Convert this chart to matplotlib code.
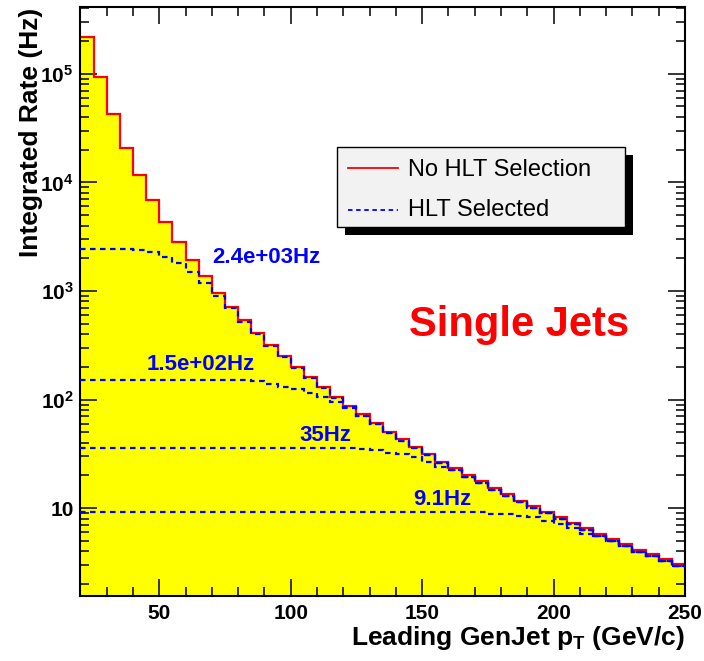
import numpy as np
import matplotlib
matplotlib.use('Agg')
import matplotlib.pyplot as plt
from matplotlib.ticker import LogLocator, FuncFormatter, MultipleLocator, NullFormatter
from matplotlib.patches import Rectangle
from matplotlib.lines import Line2D

plt.rcParams['font.family'] = ['Liberation Sans', 'DejaVu Sans']
plt.rcParams['font.weight'] = 'bold'
plt.rcParams['axes.labelweight'] = 'bold'
plt.rcParams['mathtext.fontset'] = 'custom'
plt.rcParams['mathtext.rm'] = 'Liberation Sans:bold'
plt.rcParams['mathtext.bf'] = 'Liberation Sans:bold'
plt.rcParams['mathtext.it'] = 'Liberation Sans:bold'

# bin edges, leading GenJet pT (GeV/c)
edges = np.arange(20, 255, 5)

# integrated rate without HLT selection (Hz), one value per 5 GeV bin
no_hlt = [2.18e5, 9.4e4, 4.26e4, 2.09e4, 1.16e4, 6.86e3, 4.33e3, 2.83e3, 1.93e3, 1.37e3,
          964, 713, 535, 413, 318, 252, 201, 162, 131, 106,
          87.7, 73, 61, 50.5, 43, 36.7, 31.5, 26.7, 23.2, 20.1,
          17.7, 15.2, 13.4, 11.7, 10.4, 9.24, 8.2, 7.31, 6.5, 5.76,
          5.15, 4.63, 4.10, 3.77, 3.37, 3.05]

# common tail once a selected curve joins the unselected one
tail = [519, 401, 308, 244, 195, 157, 127, 103, 85, 70.8,
        59.2, 49, 41.7, 35.6, 30.6, 25.9, 22.5, 19.5, 17.2, 14.7,
        13.0, 11.3, 10.1, 8.96, 7.95, 7.09, 6.31, 5.59, 5.0, 4.49,
        3.98, 3.66, 3.27, 2.96]

# HLT selected curves, four trigger thresholds
hlt_a = [2440, 2440, 2430, 2420, 2380, 2270, 2050, 1800, 1490, 1180, 900, 693] + tail
hlt_b = [151] * 12 + [150, 148, 139, 131, 124, 116, 106, 95.5, 84, 70.8] + tail[10:]
hlt_c = [36] * 21 + [35, 34, 32.5, 31.5, 29.6, 26.5, 23.9, 22.3] + tail[17:]
hlt_d = [9.18] * 31 + [8.9, 8.8, 8.4, 8.36, 7.6, 7.1, 6.5, 5.8, 5.5] + tail[28:]
hlt_curves = [hlt_a, hlt_b, hlt_c, hlt_d]

rate_labels = ['2.4e+03Hz', '1.5e+02Hz', '35Hz', '9.1Hz']
label_x = [70, 45.2, 103.2, 146.8]
label_y = [1.81e3, 187, 41.7, 10.6]

fig = plt.figure(figsize=(7.04, 6.61), dpi=100)
ax = fig.add_axes([0.1143, 0.0983, 0.8587, 0.8907])

ax.stairs(no_hlt, edges, fill=True, color='#ffff00', baseline=1e-3, zorder=1)
ax.stairs(no_hlt, edges, baseline=None, color='#ff0000', lw=1.6, zorder=2)
for vals in hlt_curves:
    ax.stairs(vals, edges, baseline=None, color='#0000ff', lw=1.6,
              ls=(0, (2.5, 2)), zorder=3)

ax.set_yscale('log')
ax.set_xlim(20, 250)
ax.set_ylim(1.55, 4.1e5)

ax.xaxis.set_major_locator(MultipleLocator(50))
ax.xaxis.set_minor_locator(MultipleLocator(10))
ax.yaxis.set_major_locator(LogLocator(base=10, numticks=20))
ax.yaxis.set_minor_locator(LogLocator(base=10, subs=np.arange(2, 10), numticks=20))
ax.yaxis.set_minor_formatter(NullFormatter())

def yfmt(v, pos):
    n = int(round(np.log10(v)))
    return '10' if n == 1 else r'$\mathbf{10^{%d}}$' % n

ax.yaxis.set_major_formatter(FuncFormatter(yfmt))
ax.tick_params(which='both', direction='in', top=True, right=True, width=1.1,
               labelsize=15)
ax.tick_params(which='major', length=12)
ax.tick_params(which='minor', length=6.5)
ax.tick_params(axis='x', pad=6)
ax.tick_params(axis='y', pad=5)
for s in ax.spines.values():
    s.set_linewidth(1.5)

ax.set_ylabel('Integrated Rate (Hz)', fontsize=19, fontweight='bold', loc='top')
ax.yaxis.set_label_coords(-0.062, 1.0)
ax.set_xlabel(r'Leading GenJet p$_\mathbf{T}$ (GeV/c)', fontsize=19,
              fontweight='bold', loc='right')
ax.xaxis.set_label_coords(1.0, -0.048)

for txt, x, y in zip(rate_labels, label_x, label_y):
    ax.text(x, y, txt, color='#0000ff', fontsize=16, fontweight='bold',
            ha='left', va='baseline', zorder=5)

ax.text(186.7, 486, 'Single Jets', color='#ff0000', fontsize=30, fontweight='bold',
        ha='center', va='center', zorder=5)

# legend box with ROOT style shadow
bx0, bx1, by0, by1 = 0.4248, 0.9008, 0.6263, 0.7622
ax.add_patch(Rectangle((bx0 + 0.0132, by0 - 0.0136), bx1 - bx0, by1 - by0,
                       transform=ax.transAxes, facecolor='black', edgecolor='none',
                       zorder=6))
ax.add_patch(Rectangle((bx0, by0), bx1 - bx0, by1 - by0, transform=ax.transAxes,
                       facecolor='#f2f2f2', edgecolor='black', lw=1, zorder=7))
ax.add_line(Line2D([0.4425, 0.5252], [0.7265, 0.7265], transform=ax.transAxes,
                   color='#ff0000', lw=1.3, zorder=8))
ax.add_line(Line2D([0.4425, 0.5252], [0.6557, 0.6557], transform=ax.transAxes,
                   color='#0000ff', lw=1.3, ls=(0, (2.5, 2)), zorder=8))
ax.text(0.5418, 0.7236, 'No HLT Selection', transform=ax.transAxes, fontsize=17,
        fontweight='normal', va='center', ha='left', zorder=8)
ax.text(0.5418, 0.6557, 'HLT Selected', transform=ax.transAxes, fontsize=17,
        fontweight='normal', va='center', ha='left', zorder=8)

fig.savefig('out.png', dpi=100)
